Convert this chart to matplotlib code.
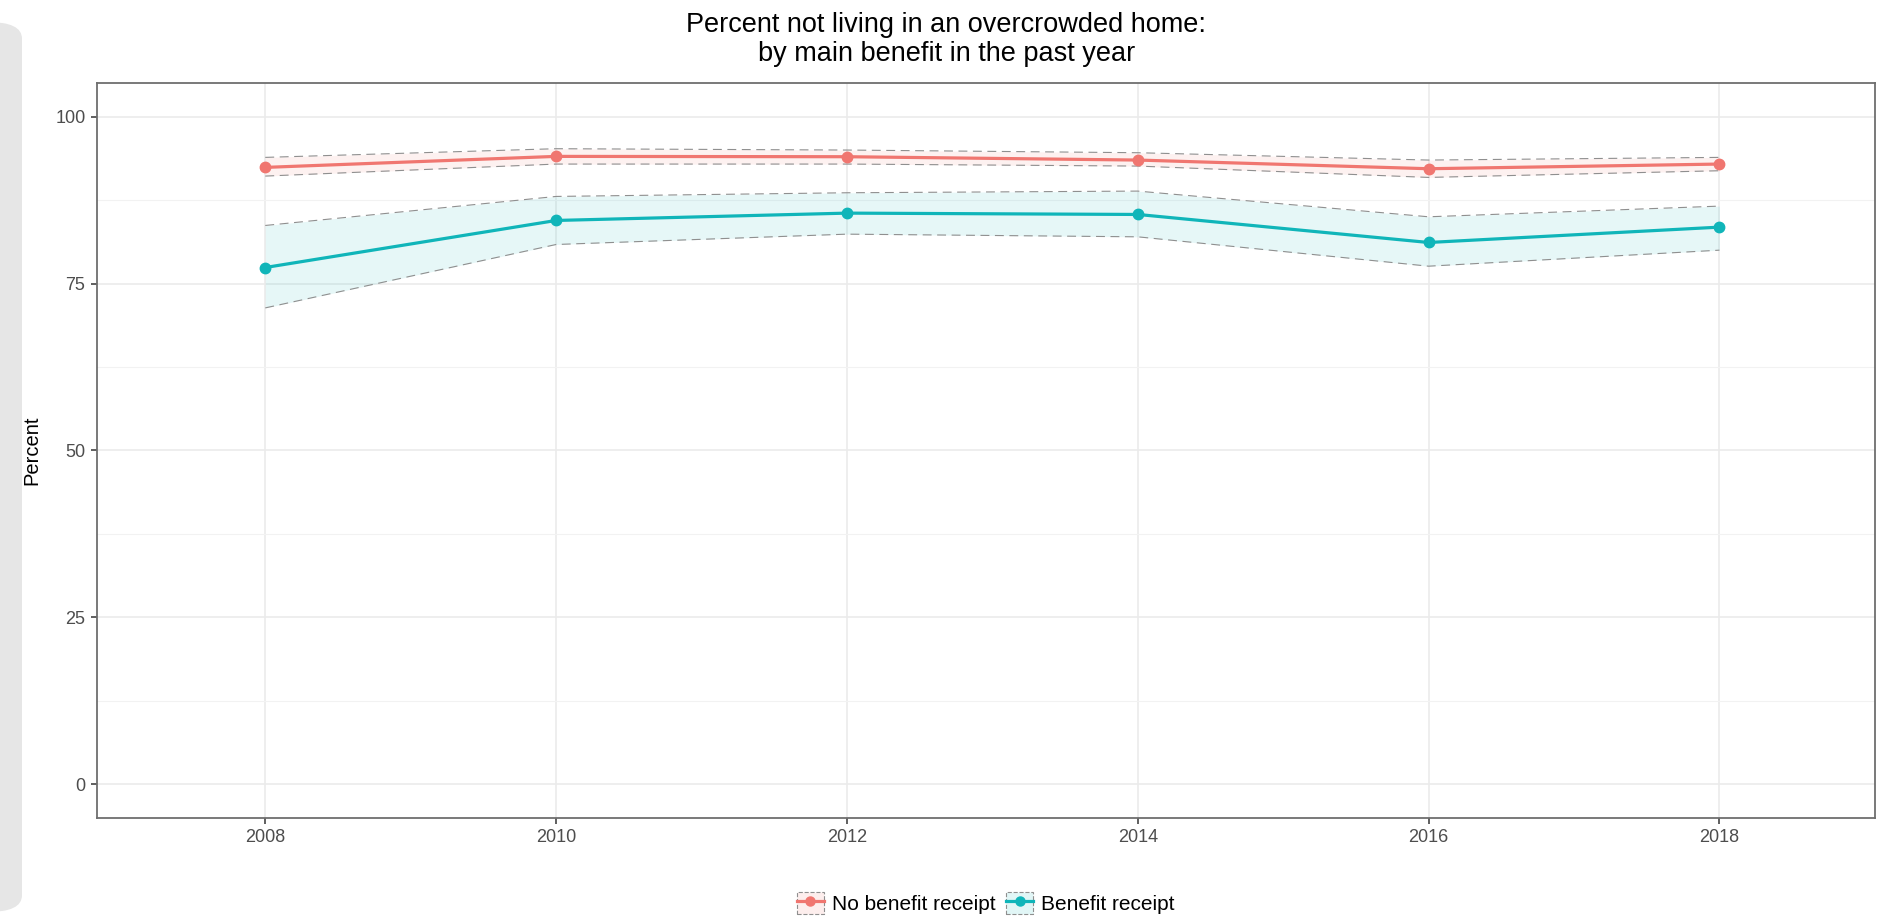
import matplotlib.pyplot as plt
from matplotlib.lines import Line2D
from matplotlib.patches import Patch, FancyBboxPatch
from matplotlib.legend_handler import HandlerTuple
from matplotlib.colors import to_rgba

years = [2008, 2010, 2012, 2014, 2016, 2018]

no_benefit = [92.4, 94.05, 94.0, 93.5, 92.2, 92.9]
no_benefit_lo = [91.1, 92.9, 92.9, 92.6, 90.9, 91.9]
no_benefit_hi = [93.9, 95.2, 95.0, 94.6, 93.5, 93.9]

benefit = [77.4, 84.45, 85.55, 85.35, 81.15, 83.45]
benefit_lo = [71.35, 80.85, 82.4, 82.0, 77.6, 80.0]
benefit_hi = [83.7, 88.05, 88.6, 88.85, 85.0, 86.6]

series_names = ["No benefit receipt", "Benefit receipt"]
y_ticks = [0, 25, 50, 75, 100]

red = "#F07670"
teal = "#10B5B9"
dash_grey = "#8f8f8f"
dashes = (0, (8, 5))

plt.rcParams["font.family"] = ["Liberation Sans", "DejaVu Sans"]

W, H = 1893, 923
fig = plt.figure(figsize=(W / 100, H / 100), dpi=100)

# grey rounded strip down the left edge, kept behind everything
fig.patches.append(FancyBboxPatch((-30 / W, 11 / H), 52 / W, 890 / H,
                                  boxstyle="round,pad=0,rounding_size=0.018",
                                  transform=fig.transFigure, facecolor="#e6e6e6",
                                  edgecolor="none", zorder=-5))

left, right, top, bottom = 96.6, 1875, 83.3, 817.5
ax = fig.add_axes([left / W, (H - bottom) / H, (right - left) / W, (bottom - top) / H])
ax.set_zorder(1)

series = [
    (no_benefit, no_benefit_lo, no_benefit_hi, red),
    (benefit, benefit_lo, benefit_hi, teal),
]
for vals, lo, hi, col in series:
    ax.fill_between(years, lo, hi, color=col, alpha=0.1, linewidth=0, zorder=2)
    ax.plot(years, lo, color=dash_grey, linestyle=dashes, linewidth=0.8, zorder=3)
    ax.plot(years, hi, color=dash_grey, linestyle=dashes, linewidth=0.8, zorder=3)
    ax.plot(years, vals, color=col, linewidth=2.3, marker="o", markersize=7.5, zorder=4)

ax.set_xlim(2006.84, 2019.07)
ax.set_ylim(-5, 105)
ax.set_xticks(years)
ax.set_yticks(y_ticks)
ax.set_yticks([12.5, 37.5, 62.5, 87.5], minor=True)
ax.grid(True, which="major", color="#ebebeb", linewidth=1.2, zorder=0)
ax.grid(True, which="minor", axis="y", color="#f2f2f2", linewidth=0.8, zorder=0)
ax.set_axisbelow(True)
ax.tick_params(which="major", length=4, width=1.2, color="#444444",
               labelsize=13, labelcolor="#4d4d4d", pad=4)
ax.tick_params(which="minor", length=0)
for s in ax.spines.values():
    s.set_color("#6e6e6e")
    s.set_linewidth(1.3)

ax.set_ylabel("Percent", fontsize=14.5, labelpad=10)
fig.text(0.5, 1 - 39.5 / H, "Percent not living in an overcrowded home:\nby main benefit in the past year",
         ha="center", va="center", fontsize=19.5, linespacing=1.15)

handles = []
for col in (red, teal):
    box = Patch(facecolor=to_rgba(col, 0.12), edgecolor=dash_grey, linestyle="--", linewidth=0.8)
    ln = Line2D([], [], color=col, linewidth=2.3, marker="o", markersize=6.5)
    handles.append((box, ln))
fig.legend(handles, series_names, handler_map={tuple: HandlerTuple(ndivide=1, pad=0)},
           loc="center", bbox_to_anchor=((left + right) / 2 / W, 20 / H), ncol=2,
           frameon=False, fontsize=15, handlelength=1.3, handleheight=1.25,
           handletextpad=0.4, columnspacing=0.5)

fig.savefig("out.png", dpi=100)
